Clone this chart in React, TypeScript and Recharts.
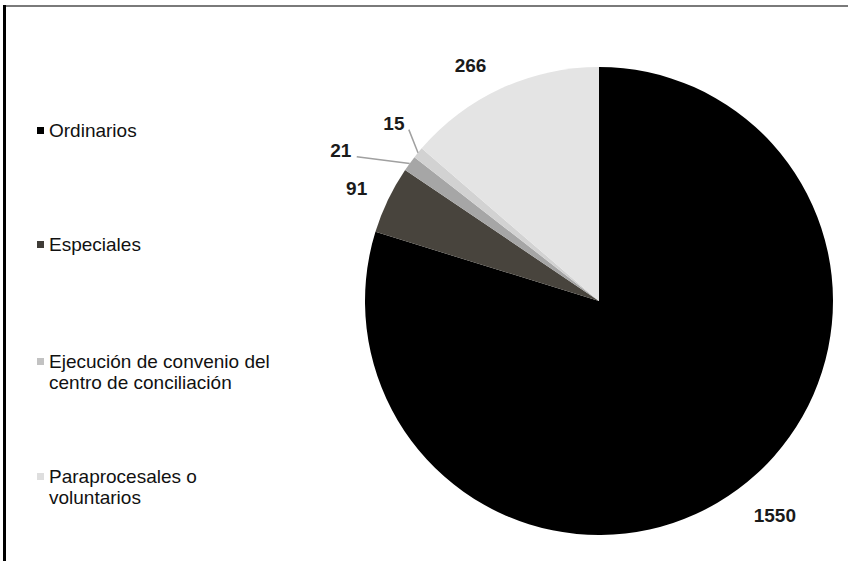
import React from "react";
import { PieChart, Pie, Cell, Legend } from "recharts";

const categories = [
  "Ordinarios",
  "Especiales",
  "Ejecución de convenio del centro de conciliación",
  "Otros",
  "Paraprocesales o voluntarios",
];
const values = [1550, 91, 21, 15, 266];
const sliceColors = ["#000000", "#48443d", "#a6a6a6", "#d2d2d2", "#e4e4e4"];

const legendLabels = [
  ["Ordinarios"],
  ["Especiales"],
  ["Ejecución de convenio del", "centro de conciliación"],
  ["Paraprocesales o", "voluntarios"],
];
const legendColors = ["#000000", "#3f3c37", "#c2c2c2", "#dedede"];

// label placement (style): angle shift (deg) from mid angle, radius offset beyond outer radius
const labelAngleShift = [3.0, 0.8, 5.7, -1.5, 4.0];
const labelRadiusOffset = [43, 33, 65, 37, 34];
const leaderStart = [null, null, 0, 0, null];
const leaderEnd = [null, null, { a: 5.2, r: 48 }, { a: -2.7, r: 22 }, null];

const data = categories.map((name, i) => ({ name, value: values[i] }));
const FONT = '"Liberation Sans", Arial, Helvetica, sans-serif';
const RAD = Math.PI / 180;

const renderLabel = (props: any) => {
  const { cx, cy, outerRadius, midAngle, index, value } = props;
  const a = midAngle + labelAngleShift[index];
  const r = outerRadius + labelRadiusOffset[index];
  const x = cx + r * Math.cos(a * RAD);
  const y = cy - r * Math.sin(a * RAD);
  const le = leaderEnd[index];
  let line = null;
  if (le) {
    const x1 = cx + (outerRadius + (leaderStart[index] as number)) * Math.cos(midAngle * RAD);
    const y1 = cy - (outerRadius + (leaderStart[index] as number)) * Math.sin(midAngle * RAD);
    const a2 = midAngle + le.a;
    const x2 = cx + (outerRadius + le.r) * Math.cos(a2 * RAD);
    const y2 = cy - (outerRadius + le.r) * Math.sin(a2 * RAD);
    line = <line x1={x1} y1={y1} x2={x2} y2={y2} stroke="#a0a0a0" strokeWidth={1.5} />;
  }
  return (
    <g key={`lbl-${index}`}>
      {line}
      <text
        x={x}
        y={y}
        textAnchor="middle"
        dominantBaseline="central"
        fontFamily={FONT}
        fontWeight="bold"
        fontSize={19}
        fill="#1a1a1a"
      >
        {value}
      </text>
    </g>
  );
};

const legendTops = [120, 234, 351, 466];

const renderLegend = () => (
  <div style={{ position: "relative", width: 300, height: 520, fontFamily: FONT }}>
    {legendLabels.map((lines, i) => (
      <div key={i} style={{ position: "absolute", left: 0, top: legendTops[i], display: "flex" }}>
        <div
          style={{
            width: 7,
            height: 7,
            background: legendColors[i],
            marginTop: 7,
            marginRight: 5,
          }}
        />
        <div style={{ fontSize: 19, lineHeight: "21px", color: "#111", whiteSpace: "nowrap" }}>
          {lines.map((l, j) => (
            <div key={j}>{l}</div>
          ))}
        </div>
      </div>
    ))}
  </div>
);

export default function App() {
  return (
    <div style={{ position: "absolute", left: 0, top: 0, width: 848, height: 561, background: "#fff" }}>
      <PieChart width={848} height={561} margin={{ top: 0, right: 0, bottom: 0, left: 0 }}>
        <Pie
          data={data}
          dataKey="value"
          nameKey="name"
          cx={599}
          cy={301}
          outerRadius={234}
          startAngle={90}
          endAngle={-270}
          stroke="none"
          label={renderLabel}
          labelLine={false}
          isAnimationActive={false}
        >
          {data.map((d, i) => (
            <Cell key={d.name} fill={sliceColors[i]} />
          ))}
        </Pie>
        <Legend
          content={renderLegend}
          wrapperStyle={{ position: "absolute", left: 37, top: 0, width: 300, height: 520 }}
        />
      </PieChart>
      <div style={{ position: "absolute", left: 3, top: 5, width: 845, height: 2, background: "#7a7a7a" }} />
      <div style={{ position: "absolute", left: 3, top: 5, width: 3, height: 556, background: "#000" }} />
    </div>
  );
}
